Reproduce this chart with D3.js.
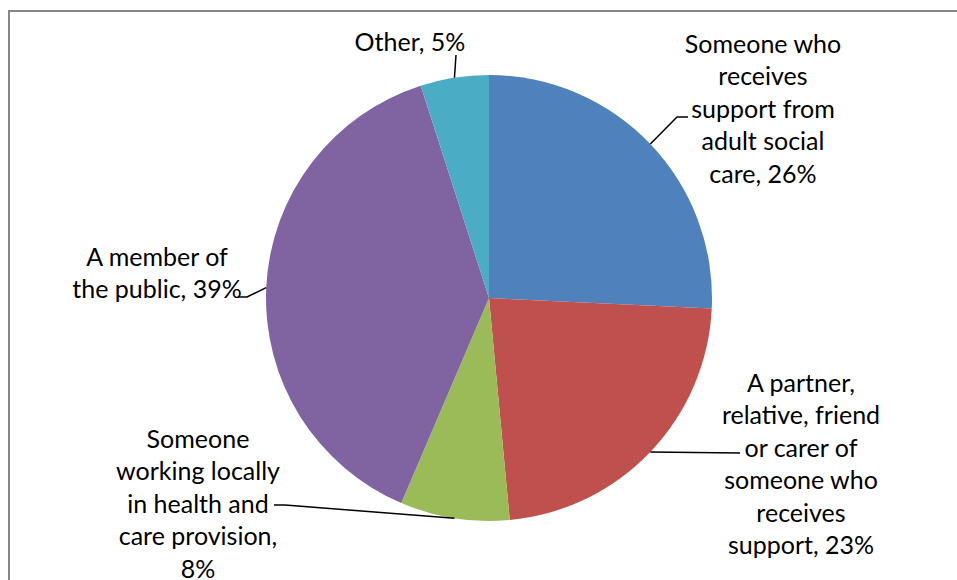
<!DOCTYPE html>
<html>
<head>
<meta charset="utf-8">
<script src="https://cdnjs.cloudflare.com/ajax/libs/d3/7.8.5/d3.min.js"></script>
<style>
  html, body { margin: 0; padding: 0; background: #fff; }
  svg { display: block; }
  text { font-family: Lato, "Open Sans", sans-serif; fill: #000; }
</style>
</head>
<body>
<svg id="chart" width="957" height="580"></svg>
<script>
// Respondent groups, clockwise from 12 o'clock
const categories = [
  "Someone who receives support from adult social care",
  "A partner, relative, friend or carer of someone who receives support",
  "Someone working locally in health and care provision",
  "A member of the public",
  "Other"
];
const shares = [26, 23, 8, 39, 5];
const labelLines = [
  ["Someone who", "receives", "support from", "adult social", "care, 26%"],
  ["A partner,", "relative, friend", "or carer of", "someone who", "receives", "support, 23%"],
  ["Someone", "working locally", "in health and", "care provision,", "8%"],
  ["A member of", "the public, 39%"],
  ["Other, 5%"]
];
const colors = ["#4F81BD", "#C0504D", "#9BBB59", "#8064A2", "#4BACC6"];

const svg = d3.select("#chart");
const cx = 489, cy = 298, radius = 223;
const lineH = 32.5, fontSize = 25;

// chart frame
svg.append("rect")
  .attr("x", 9).attr("y", 11)
  .attr("width", 960).attr("height", 600)
  .attr("fill", "#fff")
  .attr("stroke", "#868686").attr("stroke-width", 2);

const pie = d3.pie().sort(null).value(d => d.v);
const data = pie(shares.map((v, i) => ({ v, i })));
const arc = d3.arc().innerRadius(0).outerRadius(radius);

const g = svg.append("g").attr("transform", `translate(${cx},${cy})`);
g.selectAll("path.slice")
  .data(data)
  .join("path")
  .attr("class", "slice")
  .attr("d", arc)
  .attr("fill", d => colors[d.data.i]);

// label blocks: centre x and first-line middle y, plus leader path after the edge point
const labelLayout = [
  { x: 763, y: 44,  leader: [[677, 117], [688, 117]] },
  { x: 801, y: 383, leader: [[740, 453]] },
  { x: 198, y: 439, leader: [[285, 505], [274, 505]] },
  { x: 157, y: 257, leader: [[247, 297], [238, 297]] },
  { x: 410, y: 42,  leader: [[456, 55]] }
];

// edge point at each slice's mid-angle
function edgePoint(d) {
  const a = (d.startAngle + d.endAngle) / 2;
  return [cx + radius * Math.sin(a), cy - radius * Math.cos(a)];
}

const line = d3.line();
data.forEach((d, k) => {
  const L = labelLayout[k];
  const pts = [edgePoint(d)].concat(L.leader);
  svg.append("path")
    .attr("d", line(pts))
    .attr("fill", "none")
    .attr("stroke", "#000")
    .attr("stroke-width", 1.5);

  const t = svg.append("text")
    .attr("text-anchor", "middle")
    .attr("font-size", fontSize);
  labelLines[k].forEach((s, j) => {
    t.append("tspan")
      .attr("x", L.x)
      .attr("y", L.y + j * lineH)
      .attr("dy", "0.35em")
      .text(s);
  });
});
</script>
</body>
</html>
